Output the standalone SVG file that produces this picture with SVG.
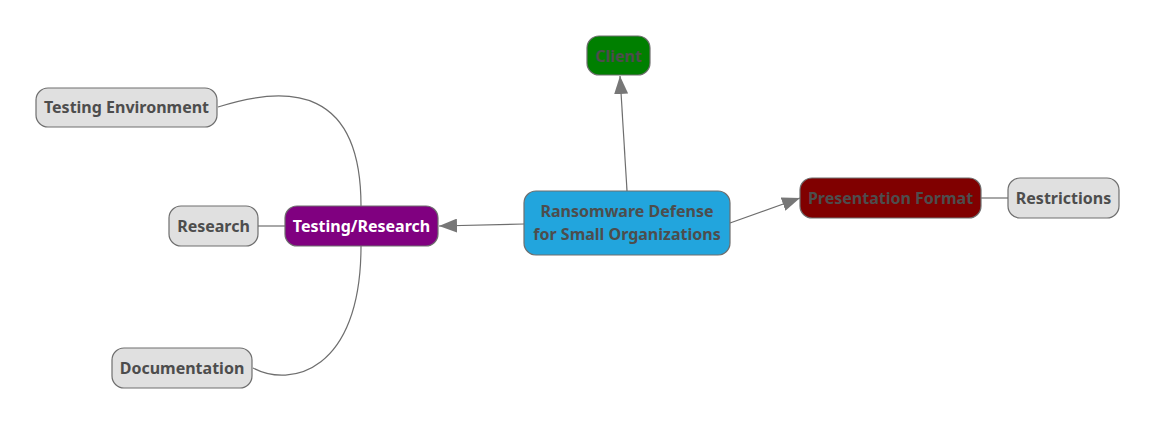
<svg xmlns="http://www.w3.org/2000/svg" width="1157" height="426" viewBox="0 0 1157 426">
<defs>
<style>
.n{stroke:#6e6e6e;stroke-width:1.2}
.t{font-family:"Noto Sans","Open Sans",sans-serif;font-weight:bold;font-size:16px;fill:#4d4d4d;text-anchor:middle;dominant-baseline:central}
.c{fill:none;stroke:#6e6e6e;stroke-width:1.2}
</style>
<marker id="ah" markerWidth="18" markerHeight="14" viewBox="0 0 18 14" refX="18" refY="7" orient="auto" markerUnits="userSpaceOnUse">
<path d="M0,0 L18,7 L0,14 Z" fill="#777"/>
</marker>
</defs>
<rect width="1157" height="426" fill="#fff"/>
<g id="connectors">
<line class="c" x1="627" y1="191" x2="620" y2="76" marker-end="url(#ah)"/>
<line class="c" x1="524" y1="224" x2="439" y2="226" marker-end="url(#ah)"/>
<line class="c" x1="730" y1="223" x2="800" y2="198" marker-end="url(#ah)"/>
<line class="c" x1="981" y1="198" x2="1008" y2="198"/>
<line class="c" x1="258" y1="226" x2="285" y2="226"/>
<path class="c" d="M218,107 C290,84 361,88 361,206"/>
<path class="c" d="M253,368 C290,388 361,372 361,246"/>
</g>
<g id="client">
<rect class="n" x="587" y="36" width="63" height="39" rx="12" fill="#007f00"/>
<text class="t" x="618.5" y="55.5">Client</text>
</g>
<g id="central">
<rect class="n" x="524" y="191" width="206" height="64" rx="12" fill="#22a5dd"/>
<text class="t" x="627" y="211">Ransomware Defense</text>
<text class="t" x="627" y="234">for Small Organizations</text>
</g>
<g id="presentation">
<rect class="n" x="800" y="178" width="181" height="40" rx="12" fill="#800000"/>
<text class="t" x="890.5" y="198">Presentation Format</text>
</g>
<g id="restrictions">
<rect class="n" x="1008" y="178" width="111" height="40" rx="12" fill="#e0e0e0"/>
<text class="t" x="1063.5" y="198">Restrictions</text>
</g>
<g id="testing-research">
<rect class="n" x="285" y="206" width="153" height="40" rx="12" fill="#800080"/>
<text class="t" x="361.5" y="226" style="fill:#fff">Testing/Research</text>
</g>
<g id="research">
<rect class="n" x="169" y="206" width="89" height="40" rx="12" fill="#e0e0e0"/>
<text class="t" x="213.5" y="226">Research</text>
</g>
<g id="testing-environment">
<rect class="n" x="36" y="88" width="181" height="39" rx="12" fill="#e0e0e0"/>
<text class="t" x="126.5" y="107">Testing Environment</text>
</g>
<g id="documentation">
<rect class="n" x="112" y="348" width="140" height="40" rx="12" fill="#e0e0e0"/>
<text class="t" x="182" y="368">Documentation</text>
</g>
</svg>
